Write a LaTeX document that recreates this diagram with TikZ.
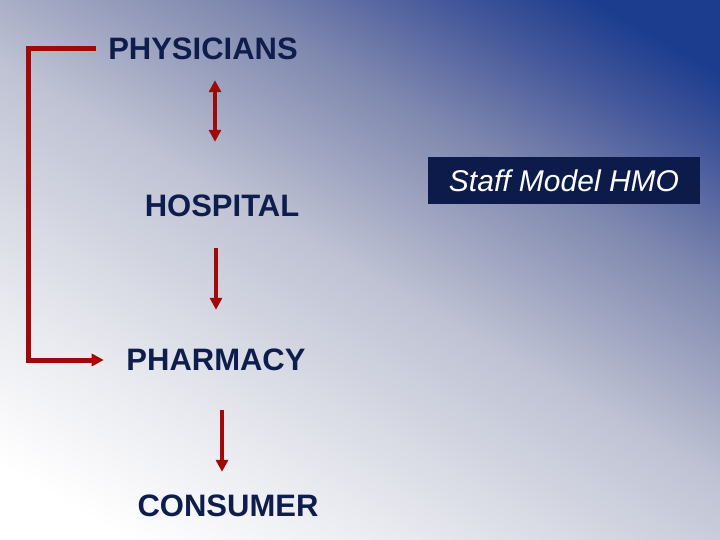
\documentclass[tikz,border=0pt]{standalone}
\usepackage{fontspec}
\setmainfont{Liberation Sans}
\usetikzlibrary{arrows.meta}
\definecolor{navytx}{HTML}{0F1D4D}
\definecolor{boxbg}{HTML}{0D1B4B}
\definecolor{darkred}{HTML}{A30808}
\definecolor{bgA}{HTML}{E8E9EF}
\definecolor{bgB}{HTML}{BEC2D3}
\definecolor{bgC}{HTML}{7E87AE}
\definecolor{bgD}{HTML}{44579A}
\definecolor{bgE}{HTML}{1C3D8E}
% fond degrade, blanc en bas a gauche, bleu en haut a droite
\pgfdeclarehorizontalshading{bgdiag}{100bp}{color(0bp)=(white); color(21bp)=(white);
	color(33bp)=(bgA); color(50bp)=(bgB); color(64bp)=(bgC); color(73bp)=(bgD);
	color(79bp)=(bgE); color(100bp)=(bgE)}
\tikzset{
	lbl_n/.style = {align=center, inner sep=4pt, text=navytx,
		font=\fontsize{31}{36}\selectfont\bfseries},% etape de la chaine
	lbl_b/.style = {rectangle, fill=boxbg, text=white, inner sep=0pt,
		minimum width=272pt, minimum height=47pt,
		font=\fontsize{30}{36}\selectfont\itshape},% titre en boite
	ar_r/.style = {draw=darkred, line width=4pt},% fleche rouge
	ar_l/.style = {draw=darkred, line width=5pt}% crochet rouge
}
\begin{document}
\begin{tikzpicture}[x=1pt,y=-1pt,>={Triangle[width=12pt,length=12pt]}]
			\useasboundingbox (0,0) rectangle (720,540);
			\shade[shading=bgdiag,shading angle=60] (0,0) rectangle (720,540);
			\node [lbl_n] (phys) at (203,49) {PHYSICIANS};
			\node [lbl_n] (hosp) at (222,206) {HOSPITAL};
			\node [lbl_n] (pharm) at (216,360) {PHARMACY};
			\node [lbl_n] (cons) at (228,506) {CONSUMER};
			\node [lbl_b] (hmo) at (564,180.5) {Staff Model HMO};
			\draw [ar_r,<->,shorten <=16pt,shorten >=49pt]
				([xshift=12pt]phys.south) -- ([xshift=-7pt]hosp.north);
			\draw [ar_r,->,shorten <=27pt,shorten >=35pt]
				([xshift=-6pt]hosp.south) -- (pharm.north);
			\draw [ar_r,->,shorten <=35pt,shorten >=19pt]
				([xshift=6pt]pharm.south) -- ([xshift=-6pt]cons.north);
			\draw [ar_l,->,shorten >=18.5pt]
				([xshift=-8pt]phys.west) -- ++(-68,0) |- (pharm.west);
\end{tikzpicture}
\end{document}
